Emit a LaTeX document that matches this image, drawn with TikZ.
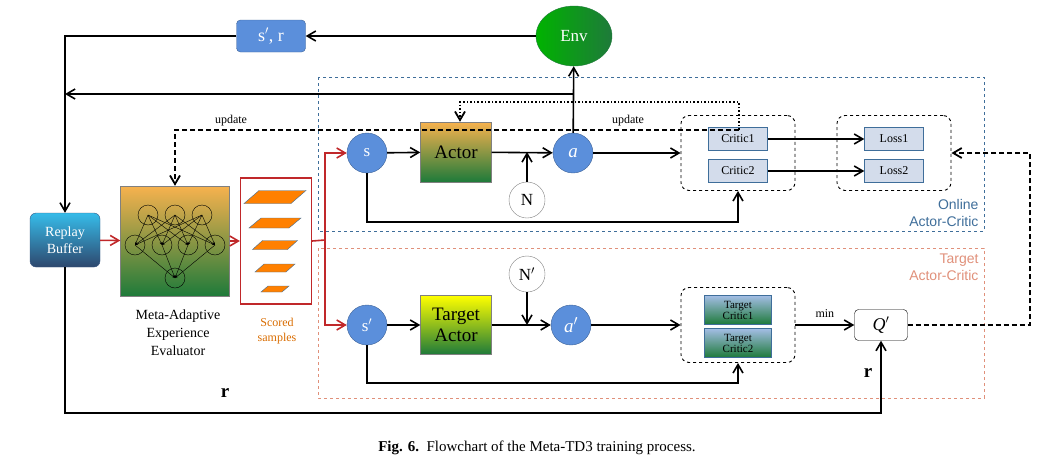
\documentclass[tikz,border=0pt]{standalone}
\usepackage{fontspec}
\setmainfont{Liberation Serif}
\newfontfamily\sansf{Liberation Sans}
\usepackage{tikz}
\usetikzlibrary{arrows.meta,shapes.geometric,positioning,calc}
\definecolor{BlueNode}{HTML}{5B8FDB}
\definecolor{OnlineBlue}{HTML}{3F6E9A}
\definecolor{TargetRed}{HTML}{E0907A}
\definecolor{SampleRed}{HTML}{C0282A}
\definecolor{GreenDark}{HTML}{1E7A3A}
\definecolor{OrangeTop}{HTML}{F7B24E}
\definecolor{CriticFill}{HTML}{D3DCEB}

\begin{document}
\begin{tikzpicture}[x=1pt,y=-1pt,
    every node/.style={font={\fontsize{13}{15}\selectfont}},
    arr/.style={-{Straight Barb[length=3mm,width=3.5mm]}, line width=1.6pt},
    redarr/.style={arr, draw=SampleRed},
    upd/.style={arr, dashed, dash pattern=on 5pt off 3pt, line width=1.8pt},
    bluecirc/.style={circle, fill=BlueNode, draw=BlueNode!70!black, minimum size=40pt, inner sep=0pt, text=white, font={\fontsize{17}{17}\selectfont}},
    whitecirc/.style={circle, draw=gray, fill=white, minimum size=36pt, inner sep=0pt, font={\fontsize{17}{17}\selectfont}},
    grad/.style={rectangle, draw=gray, top color=OrangeTop, bottom color=GreenDark, inner sep=0pt, align=center},
    critic/.style={rectangle, draw=OnlineBlue, fill=CriticFill, minimum width=59pt, minimum height=23pt, inner sep=0pt, font={\fontsize{12}{13}\selectfont}},
    tcritic/.style={rectangle, draw=OnlineBlue, top color=CriticFill!60!BlueNode, bottom color=GreenDark, minimum width=67pt, minimum height=29pt, inner sep=0pt, align=center, font={\fontsize{11}{11}\selectfont}},
    group/.style={draw, dashed, rounded corners=8pt, line width=0.9pt, minimum width=114pt, minimum height=75pt},
    region/.style={draw, dashed, line width=0.9pt}
    ]
    \useasboundingbox (0,0) rectangle (1058,469);

    % regions
    \draw[region, OnlineBlue] (318,77) rectangle (984,231);
    \draw[region, TargetRed] (318,248) rectangle (984,398);
    \node[text=OnlineBlue, align=right, anchor=south east, font={\sansf\fontsize{14}{17}\selectfont}] (onlinelbl) at (982,230) {Online\\Actor-Critic};
    \node[text=TargetRed, align=right, anchor=north east, font={\sansf\fontsize{14}{17}\selectfont}] (targetlbl) at (982,250) {Target\\Actor-Critic};

    % top row
    \node[rectangle, rounded corners=4pt, fill=BlueNode, draw=BlueNode!70!black, minimum width=69pt, minimum height=32pt, text=white, font={\fontsize{18}{18}\selectfont}] (sr) at (271,36) {s$'$, r};
    \node[ellipse, left color=green!70!black, right color=GreenDark, draw=GreenDark, minimum width=76pt, minimum height=60pt, text=white, font={\fontsize{17}{17}\selectfont}] (env) at (574,36) {Env};

    % replay and evaluator
    \node[rectangle, rounded corners=6pt, top color=BlueNode!60!cyan, bottom color=BlueNode!50!black, draw=BlueNode!60!black, minimum width=70pt, minimum height=54pt, text=white, align=center, font={\fontsize{14}{17}\selectfont}] (replay) at (65,240) {Replay\\Buffer};
    \node[grad, minimum width=109pt, minimum height=110pt] (eval) at (175,241) {};
    \foreach \tx in {148,175,202} {
      \foreach \mx in {135,162,188,215} \draw[-{Stealth[length=3pt]}, thin] (\tx,215) -- (\mx,245);
      \draw (\tx,215) circle (10);
    }
    \foreach \mx in {135,162,188,215} {
      \draw[-{Stealth[length=3pt]}, thin] (\mx,245) -- (175,278);
      \draw (\mx,245) circle (10);
    }
    \draw (175,278) circle (10);
    \node[align=center, font={\fontsize{14}{18}\selectfont}] (evallbl) at (178,333) {Meta-Adaptive\\Experience\\Evaluator};

    % scored samples
    \node[draw=SampleRed, line width=1.2pt, minimum width=71pt, minimum height=126pt] (samples) at (276,241) {};
    \foreach \y/\w/\h/\d in {197/62/13/15, 223/52/10/12, 245/45/9/10, 268/40/8/9, 289/28/6/7}
      \draw[fill=orange, draw=OnlineBlue] (275-\w/2,\y+\h/2) -- (275+\w/2-\d,\y+\h/2) -- (275+\w/2,\y-\h/2) -- (275-\w/2+\d,\y-\h/2) -- cycle;
    \node[text=orange!85!black, align=center, font={\fontsize{12}{15}\selectfont}] (sampleslbl) at (277,331) {Scored\\samples};

    % online row
    \node[bluecirc] (s) at (367,153) {s};
    \node[grad, minimum width=71pt, minimum height=60pt, font={\fontsize{19}{19}\selectfont}] (actor) at (456,152) {Actor};
    \node[whitecirc] (n) at (527,200) {N};
    \node[bluecirc, font={\fontsize{19}{19}\selectfont\itshape}] (a) at (573,153) {a};
    \node[group] (cgroup) at (738,153) {};
    \node[critic] (c1) at (738,139) {Critic1};
    \node[critic] (c2) at (738,171) {Critic2};
    \node[group] (lgroup) at (894,153) {};
    \node[critic] (l1) at (894,139) {Loss1};
    \node[critic] (l2) at (894,171) {Loss2};

    % target row
    \node[bluecirc] (ts) at (367,325) {s$'$};
    \node[grad, top color=yellow, minimum width=71pt, minimum height=59pt, font={\fontsize{19}{21}\selectfont}] (tactor) at (456,325) {Target\\Actor};
    \node[whitecirc] (tn) at (527,274) {N$'$};
    \node[bluecirc, font={\fontsize{19}{19}\selectfont\itshape}] (ta) at (571,325) {a$'$};
    \node[group] (tgroup) at (738,325) {};
    \node[tcritic] (tc1) at (738,310) {Target\\Critic1};
    \node[tcritic] (tc2) at (738,343) {Target\\Critic2};
    \node[rectangle, draw, rounded corners=4pt, minimum width=53pt, minimum height=31pt, font={\fontsize{18}{18}\selectfont\itshape}] (q) at (881,325) {Q$'$};

    \coordinate (split) at (325,240);
    \coordinate (rtop) at (65,36);
    \coordinate (rmid) at (65,94);
    \coordinate (rbot) at (65,413);
    \coordinate (dashr) at (1030,325);
    \coordinate (updc) at (739,130);

    % connectors
    \draw[arr] (env) -- (sr);
    \draw[arr] (sr.west) -- (rtop) -- (replay.north);
    \draw[arr] (a) -- (env);
    \draw[arr] (a.north |- rmid) -- (rmid);
    \draw[redarr] (replay) -- (eval);
    \draw[redarr] (eval) -- (samples);
    \draw[SampleRed, line width=1.6pt] (samples.east) -- (split);
    \draw[redarr] (split) |- (s);
    \draw[redarr] (split) |- (ts);
    \draw[arr] (s) -- (actor);
    \draw[arr] (actor) -- (a);
    \draw[arr] (n) -- (n.north |- actor.east);
    \draw[arr] (a) -- (cgroup);
    \draw[arr] (s.south) |- (738,222) -- (cgroup.south);
    \draw[arr] (c1) -- (l1.west);
    \draw[arr] (c2) -- (l2.west);
    \draw[arr] (ts) -- (tactor);
    \draw[arr] (tactor) -- (ta);
    \draw[arr] (tn) -- (tn.south |- tactor.east);
    \draw[arr] (ta) -- (tgroup);
    \draw[arr] (ts.south) |- (738,383) -- (tgroup.south);
    \draw[arr] (tgroup) -- node[above=3pt, font={\fontsize{12}{13}\selectfont}] {min} (q);
    \draw[arr] (replay.south) -- (rbot) -| (q.south);
    \draw[upd] (q.east) -- (dashr) |- (lgroup.east);
    \draw[upd] (updc) -| (eval.north);
    \draw[arr, dotted, line width=1.8pt] (updc) |- (460,102) -- ($(actor.north)+(4,0)$);
    \node[font={\fontsize{12}{13}\selectfont}] (upd1) at (231,121) {update};
    \node[font={\fontsize{12}{13}\selectfont}] (upd2) at (628,121) {update};
    \node[font={\fontsize{19}{19}\selectfont\bfseries}] (r1) at (225,393) {r};
    \node[font={\fontsize{19}{19}\selectfont\bfseries}] (r2) at (868,373) {r};

    % caption
    \node[font={\fontsize{15}{17}\selectfont}] (caption) at (537,448) {\textbf{Fig. 6.}\ \ Flowchart of the Meta-TD3 training process.};
\end{tikzpicture}
\end{document}
